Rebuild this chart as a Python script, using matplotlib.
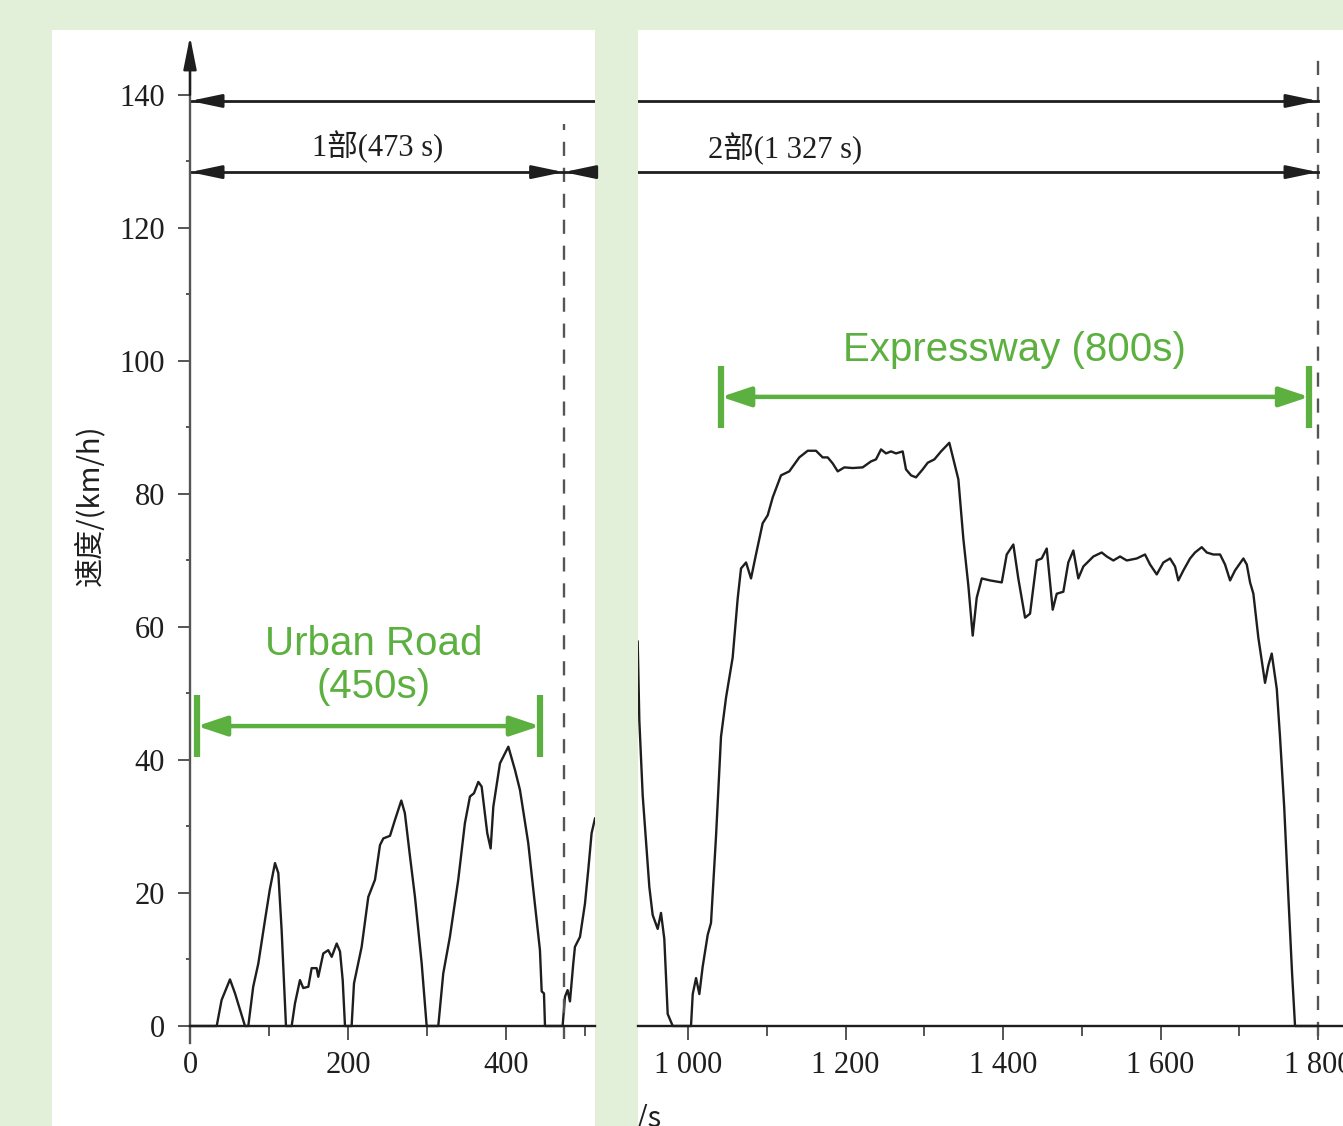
import matplotlib.pyplot as plt
from matplotlib.ticker import FixedLocator

plt.rcParams['font.family'] = ['Liberation Serif', 'Noto Sans CJK SC']

# speed trace, part 1 (urban) - time in s, speed in km/h
urban_t = [0, 33.8, 40, 50.6, 57, 69.6, 73.8, 80, 86.5, 94.9, 101, 107.6, 111.8,
           116, 121.5, 128.7, 132.9, 139.2, 143.4, 149.8, 154, 160.3, 162.4, 168.7,
           175, 179.4, 185.7, 189.9, 193.3, 196.2, 204.6, 207.6, 217.3, 225.7, 234.2,
           240.5, 244.7, 253.2, 259.5, 267.5, 272, 278.5, 284.8, 293.3, 299.6, 314.3,
           320.6, 329, 339.6, 348, 354.4, 359.5, 365, 369.2, 376.3, 380.6, 384, 392.4,
           403, 411.4, 417.7, 428.2, 434.6, 443, 445.2, 448.1, 449.4, 471.7, 474.7,
           478, 481, 485.2, 487.3, 493.7, 500, 504.2, 508.4, 512.7]
urban_v = [0, 0, 3.9, 7.0, 4.9, 0, 0, 5.9, 9.4, 15.9, 20.5, 24.5, 23,
           14.4, 0, 0, 3.4, 6.9, 5.7, 5.9, 8.7, 8.7, 7.4, 10.9,
           11.4, 10.4, 12.4, 11.2, 6.9, 0, 0, 6.4, 11.9, 19.4, 22,
           27.2, 28.2, 28.6, 31, 33.9, 32, 25.5, 19.4, 9.4, 0, 0,
           7.9, 13.4, 22, 30.5, 34.5, 35, 36.7, 36, 29, 26.7, 33, 39.5,
           42, 38.5, 35.5, 27.5, 20.5, 11.4, 5.2, 4.9, 0, 0, 4.4,
           5.4, 3.7, 9.4, 11.9, 13.4, 18.4, 23.5, 29, 31.2]

# speed trace, part 2 (expressway)
express_t = [936.1, 938.2, 942.5, 950.9, 955.1, 961.5, 965.7, 969.9, 974.2, 980.6,
             1003.8, 1006, 1010.2, 1014.4, 1018.6, 1025, 1029.2, 1035.6, 1041.9,
             1048.3, 1056.7, 1063.1, 1067.3, 1073.7, 1080, 1086.3, 1094.8, 1101.2,
             1107.6, 1118.1, 1128.6, 1141.3, 1152, 1162.5, 1171, 1177.4, 1183.7,
             1190.1, 1198.5, 1209.1, 1221.8, 1232.4, 1238.7, 1245.1, 1251.4, 1257.8,
             1264.1, 1272.6, 1276.8, 1283.2, 1289.5, 1298, 1304.4, 1312.8, 1321.3,
             1331.8, 1343.3, 1349.6, 1356, 1361.5, 1366.6, 1373, 1383.5, 1398.4,
             1404.7, 1413.1, 1419.4, 1428, 1434.3, 1442.8, 1449.1, 1455.5, 1463.1,
             1468.2, 1476.6, 1482.9, 1489.3, 1495.6, 1502, 1514.7, 1525.3, 1531.7,
             1540.1, 1548.6, 1557.1, 1569.8, 1580.3, 1586.7, 1595.2, 1603.6, 1612.1,
             1618.4, 1622.6, 1629, 1637.5, 1643.8, 1652.3, 1658.7, 1667, 1675.6,
             1681.9, 1688.3, 1694.6, 1705.2, 1709.5, 1713.7, 1717.9, 1724.2, 1732.7,
             1736.9, 1741.2, 1747.6, 1751.7, 1757, 1762.5, 1767, 1770.8, 1800]
express_v = [57.8, 45.9, 34.6, 20.9, 16.7, 14.6, 17, 13.1, 1.8, 0,
             0, 4.8, 7.2, 4.8, 8.9, 13.7, 15.5, 28.6, 43.5,
             49.4, 55.4, 64.3, 68.8, 69.7, 67.3, 70.9, 75.6, 76.8,
             79.5, 82.8, 83.4, 85.5, 86.5, 86.5, 85.5, 85.5, 84.6,
             83.4, 84, 83.9, 84, 84.9, 85.2, 86.7, 86.1, 86.4,
             86.1, 86.4, 83.7, 82.8, 82.5, 83.7, 84.7, 85.2, 86.4,
             87.7, 82.2, 73.3, 66.2, 58.7, 64.4, 67.3, 67, 66.7,
             70.9, 72.4, 67.3, 61.4, 62, 70, 70.3, 71.8, 62.6,
             65, 65.3, 69.7, 71.5, 67.3, 69.1, 70.6, 71.2, 70.6,
             70, 70.6, 70, 70.3, 70.9, 69.4, 67.9, 69.7, 70.3,
             69.1, 67, 68.5, 70.3, 71.2, 72, 71.2, 70.9, 70.9,
             69.4, 67, 68.5, 70.3, 69.4, 66.7, 65, 58.4, 51.6,
             54.2, 56, 50.7, 43.5, 33, 19, 8, 0, 0]

part1_end = 473
cycle_end = 1800
part1_label = '1部(473 s)'
part2_label = '2部(1 327 s)'
ylabel = '速度/(km/h)'
xlabel = '时间/s'
urban_label = 'Urban Road\n(450s)'
urban_span = (8.9, 443)
express_label = 'Expressway (800s)'
express_span = (1042, 1788.6)

BG = '#e2efd9'
GREEN = '#5cb040'
INK = '#1e1e1e'
AXC = '#555555'

fig = plt.figure(figsize=(13.43, 11.26), dpi=100, facecolor=BG)
axL = fig.add_axes([52 / 1343, 0, 543 / 1343, 1096 / 1126], facecolor='white')
axR = fig.add_axes([638 / 1343, 0, 705 / 1343, 1096 / 1126], facecolor='white')

axL.set_xlim(-174.7, 512.7)
axR.set_xlim(936.5, 1831.7)
for ax in (axL, axR):
    ax.set_ylim(-15.04, 149.77)
    for s in ('top', 'right', 'left'):
        ax.spines[s].set_visible(False)
    ax.spines['bottom'].set_position(('data', 0))
    ax.spines['bottom'].set_color(INK)
    ax.spines['bottom'].set_linewidth(1.7)
    ax.tick_params(axis='x', which='major', direction='out', length=10, width=1.4,
                   color=AXC, labelsize=22, labelcolor=INK, pad=8)
    ax.tick_params(axis='x', which='minor', direction='out', length=7, width=1.4, color=AXC)

# left panel axes
axL.spines['left'].set_visible(True)
axL.spines['left'].set_position(('data', 0))
axL.spines['left'].set_bounds(-2.5, 147)
axL.spines['left'].set_color(AXC)
axL.spines['left'].set_linewidth(1.7)
axL.spines['bottom'].set_bounds(0, 512.7)
axL.set_yticks(range(0, 141, 20))
axL.yaxis.set_minor_locator(FixedLocator([10, 30, 50, 70, 90, 110, 130]))
axL.tick_params(axis='y', which='major', direction='out', length=9, width=1.4,
                color=AXC, labelsize=22, labelcolor=INK, pad=9)
axL.tick_params(axis='y', which='minor', direction='out', length=3, width=1.4, color=AXC)
axL.set_xticks([0, 200, 400])
axL.xaxis.set_minor_locator(FixedLocator([100, 300, 500]))
axL.annotate('', xy=(0, 148.8), xytext=(0, 140),
             arrowprops=dict(arrowstyle='-|>,head_length=1.0,head_width=0.2',
                             mutation_scale=20, color=INK, lw=1.7,
                             shrinkA=0, shrinkB=0))

axR.set_yticks([])
rticks = [1000, 1200, 1400, 1600, 1800]
axR.set_xticks(rticks)
axR.set_xticklabels(['{:,}'.format(t).replace(',', ' ') for t in rticks])
axR.xaxis.set_minor_locator(FixedLocator([1100, 1300, 1500, 1700]))

# speed traces
axL.plot(urban_t, urban_v, color=INK, lw=1.7)
axR.plot(express_t, express_v, color=INK, lw=1.7)

# dashed part boundaries
axL.plot([part1_end, part1_end], [-2, 135.7], color=AXC, lw=1.7, ls=(0, (6, 5)))
axR.plot([cycle_end, cycle_end], [-1.5, 145.7], color=AXC, lw=1.7, ls=(0, (6, 5)))

# black dimension arrows
head = dict(arrowstyle='-|>,head_length=0.95,head_width=0.2', mutation_scale=20,
            color=INK, lw=2.0, shrinkA=0, shrinkB=0)
y_top, y_part = 139.1, 128.4
for ax in (axL, axR):
    ax.plot([0, cycle_end], [y_top, y_top], color=INK, lw=2.0)
axL.plot([0, 512.7], [y_part, y_part], color=INK, lw=2.0)
axR.plot([part1_end, cycle_end], [y_part, y_part], color=INK, lw=2.0)
axL.annotate('', xy=(0, y_top), xytext=(40, y_top), arrowprops=head)
axL.annotate('', xy=(0, y_part), xytext=(40, y_part), arrowprops=head)
axL.annotate('', xy=(part1_end, y_part), xytext=(part1_end - 40, y_part), arrowprops=head)
axL.annotate('', xy=(part1_end, y_part), xytext=(part1_end + 30, y_part), arrowprops=head)
axR.annotate('', xy=(cycle_end, y_top), xytext=(cycle_end - 40, y_top), arrowprops=head)
axR.annotate('', xy=(cycle_end, y_part), xytext=(cycle_end - 40, y_part), arrowprops=head)

axL.text(238, 132.2, part1_label, fontsize=22, color=INK, ha='center', va='center')
axR.text(1123, 131.9, part2_label, fontsize=22, color=INK, ha='center', va='center')

axL.text(-126.6, 78.3, ylabel, fontsize=21, color=INK, rotation=90,
         ha='center', va='center', family=['Noto Sans CJK SC', 'DejaVu Sans'])
# axis title is mostly hidden behind the panel gap, as in the source figure
axR.text(967, -11.8, xlabel, fontsize=21, color=INK, ha='right', va='top',
         clip_on=True, family=['Noto Sans CJK SC', 'DejaVu Sans'])

# green annotations
garrow = dict(arrowstyle='<|-|>,head_length=0.9,head_width=0.3', mutation_scale=20,
              color=GREEN, lw=3.2, shrinkA=0, shrinkB=0)
axL.annotate('', xy=(urban_span[0], 45.1), xytext=(urban_span[1], 45.1), arrowprops=garrow)
for x in urban_span:
    axL.plot([x, x], [40.4, 49.8], color=GREEN, lw=4.5, solid_capstyle='butt')
axL.text(233, 54.2, urban_label, fontsize=29, color=GREEN, ha='center', va='center',
         family='Liberation Sans', linespacing=1.15)

axR.annotate('', xy=(express_span[0], 94.6), xytext=(express_span[1], 94.6), arrowprops=garrow)
for x in express_span:
    axR.plot([x, x], [89.9, 99.2], color=GREEN, lw=4.5, solid_capstyle='butt')
axR.text(1415, 101.7, express_label, fontsize=29, color=GREEN, ha='center', va='center',
         family='Liberation Sans')

fig.savefig('out.png', dpi=100, facecolor=BG)
